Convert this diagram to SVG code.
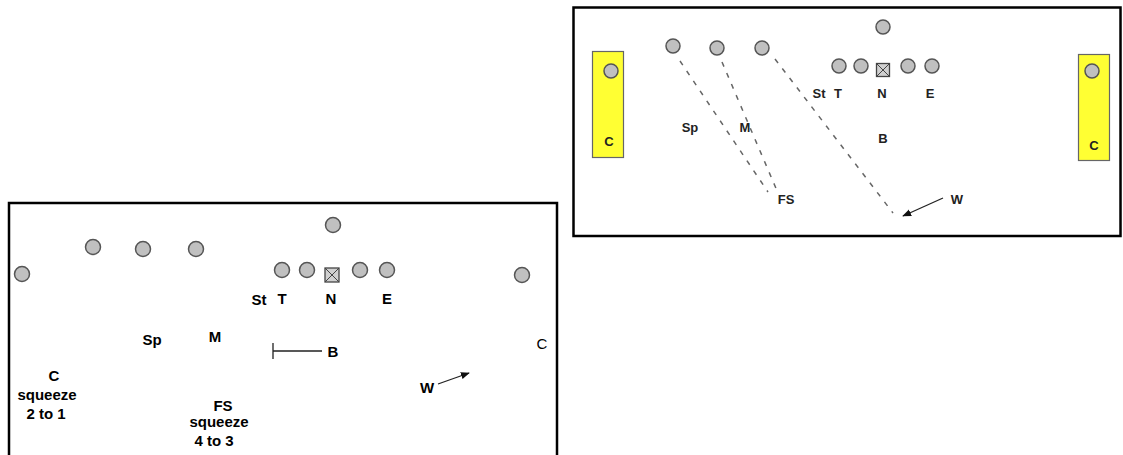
<svg xmlns="http://www.w3.org/2000/svg" width="1123" height="455" viewBox="0 0 1123 455">
<style>
.panel{fill:#fff;stroke:#000;stroke-width:2.5}
.pl{fill:#c0c0c0;stroke:#555;stroke-width:1.5}
.sq{fill:#d0d0d0;stroke:#444;stroke-width:1.3}
.zone{fill:#ffff33;stroke:#666;stroke-width:1.2}
.lb{font-family:"Liberation Sans",Arial,sans-serif;font-weight:bold;font-size:15px;fill:#000;text-anchor:middle}
.lr{font-family:"Liberation Sans",Arial,sans-serif;font-size:15px;fill:#000;text-anchor:middle}
.rb{font-family:"Liberation Sans",Arial,sans-serif;font-weight:bold;font-size:13px;fill:#222;text-anchor:middle}
.dash{stroke:#666;stroke-width:1.5;stroke-dasharray:5 7;fill:none}
.arr{stroke:#222;stroke-width:1.3;fill:none}
</style>
<defs>
<marker id="ah" viewBox="0 0 10 10" refX="9" refY="5" markerWidth="9" markerHeight="9" markerUnits="userSpaceOnUse" orient="auto">
<path d="M0,1 L10,5 L0,9 Z" fill="#111"/>
</marker>
</defs>
<rect width="1123" height="455" fill="#fff"/>

<g id="left-panel">
<rect class="panel" x="9" y="203" width="548" height="270"/>
</g>
<g id="right-panel">
<rect class="panel" x="573.5" y="7.5" width="547" height="228.5"/>
<rect class="zone" x="592.5" y="51.5" width="31" height="106"/>
<rect class="zone" x="1078.5" y="54.5" width="31" height="106"/>
</g>

<g id="connectors">
<path class="arr" d="M273,351 H322 M273,343 V359" />
<line class="arr" x1="438" y1="384" x2="469" y2="373" marker-end="url(#ah)"/>
<line class="dash" x1="680" y1="61" x2="768" y2="192"/>
<line class="dash" x1="722" y1="62" x2="778" y2="193"/>
<line class="dash" x1="775" y1="59" x2="893" y2="213"/>
<line class="arr" x1="943" y1="198" x2="903" y2="216" marker-end="url(#ah)"/>
</g>

<g id="left-offense">
<circle class="pl" cx="22" cy="274" r="7.5"/>
<circle class="pl" cx="93" cy="247" r="7.5"/>
<circle class="pl" cx="143" cy="249" r="7.5"/>
<circle class="pl" cx="196" cy="249" r="7.5"/>
<circle class="pl" cx="333" cy="225" r="7.5"/>
<circle class="pl" cx="282" cy="270" r="7.5"/>
<circle class="pl" cx="307" cy="270" r="7.5"/>
<g id="left-center"><rect class="sq" x="325" y="268" width="14" height="14"/><path d="M325,268 L339,282 M339,268 L325,282" stroke="#444" stroke-width="1"/></g>
<circle class="pl" cx="360" cy="270" r="7.5"/>
<circle class="pl" cx="387" cy="270" r="7.5"/>
<circle class="pl" cx="522" cy="275" r="7.5"/>
</g>

<g id="left-labels">
<text class="lb" x="259" y="305">St</text>
<text class="lb" x="282" y="304">T</text>
<text class="lb" x="331" y="304">N</text>
<text class="lb" x="387" y="304">E</text>
<text class="lb" x="152" y="345">Sp</text>
<text class="lb" x="215" y="342">M</text>
<text class="lb" x="333" y="357">B</text>
<text class="lr" x="542" y="349">C</text>
<text class="lb" x="427" y="393">W</text>
<text class="lb" x="54" y="381">C</text>
<text class="lb" x="47" y="400">squeeze</text>
<text class="lb" x="46" y="419">2 to 1</text>
<text class="lb" x="223" y="411">FS</text>
<text class="lb" x="219" y="427">squeeze</text>
<text class="lb" x="214" y="446">4 to 3</text>
</g>

<g id="right-offense">
<circle class="pl" cx="611" cy="71" r="7"/>
<circle class="pl" cx="1092" cy="71" r="7"/>
<circle class="pl" cx="673" cy="46" r="7"/>
<circle class="pl" cx="717" cy="48" r="7"/>
<circle class="pl" cx="762" cy="48" r="7"/>
<circle class="pl" cx="883" cy="27" r="7"/>
<circle class="pl" cx="839" cy="66" r="7"/>
<circle class="pl" cx="861" cy="66" r="7"/>
<g id="right-center"><rect class="sq" x="876.5" y="63.5" width="13" height="13"/><path d="M876.5,63.5 L889.5,76.5 M889.5,63.5 L876.5,76.5" stroke="#444" stroke-width="1"/></g>
<circle class="pl" cx="908" cy="66" r="7"/>
<circle class="pl" cx="932" cy="66" r="7"/>
</g>

<g id="right-labels">
<text class="rb" x="819" y="98">St</text>
<text class="rb" x="838" y="98">T</text>
<text class="rb" x="882" y="98">N</text>
<text class="rb" x="930" y="98">E</text>
<text class="rb" x="690" y="132">Sp</text>
<text class="rb" x="745" y="132">M</text>
<text class="rb" x="883" y="143">B</text>
<text class="rb" x="786" y="204">FS</text>
<text class="rb" x="957" y="204">W</text>
<text class="rb" x="609" y="146" fill="#333">C</text>
<text class="rb" x="1094" y="150" fill="#333">C</text>
</g>
</svg>
